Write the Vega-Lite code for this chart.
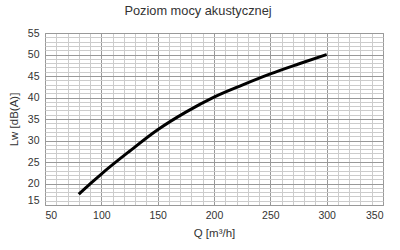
{
  "$schema": "https://vega.github.io/schema/vega-lite/v6.json",
  "width": 338,
  "height": 172,
  "autosize": {"type": "none"},
  "padding": {"left": 45, "top": 33, "right": 17, "bottom": 45},
  "title": {
    "text": "Poziom mocy akustycznej",
    "font": "Liberation Sans",
    "fontSize": 12.8,
    "fontWeight": "normal",
    "color": "#333333",
    "offset": 10,
    "dx": -16
  },
  "config": {
    "view": {"stroke": "#999999", "strokeWidth": 1},
    "axis": {
      "labelFont": "Liberation Sans",
      "titleFont": "Liberation Sans",
      "labelFontSize": 10.5,
      "titleFontSize": 11.5,
      "labelColor": "#333333",
      "titleColor": "#333333",
      "titleFontWeight": "normal",
      "domain": false,
      "ticks": false,
      "gridOpacity": 1,
      "gridWidth": 1
    }
  },
  "data": {
    "values": [
      {"q": 80, "lw": 17.5},
      {"q": 90, "lw": 19.9},
      {"q": 100, "lw": 22.2},
      {"q": 125, "lw": 27.5},
      {"q": 150, "lw": 32.5},
      {"q": 175, "lw": 36.6},
      {"q": 200, "lw": 40.1},
      {"q": 225, "lw": 42.9},
      {"q": 250, "lw": 45.5},
      {"q": 275, "lw": 47.8},
      {"q": 300, "lw": 50.0}
    ]
  },
  "mark": {
    "type": "line",
    "interpolate": "monotone",
    "color": "#000000",
    "strokeWidth": 3,
    "strokeCap": "butt"
  },
  "encoding": {
    "x": {
      "field": "q",
      "type": "quantitative",
      "scale": {"domain": [50, 350], "nice": false, "zero": false},
      "axis": {
        "title": "Q [m³/h]",
        "values": [50, 60, 70, 80, 90, 100, 110, 120, 130, 140, 150, 160, 170, 180, 190, 200, 210, 220, 230, 240, 250, 260, 270, 280, 290, 300, 310, 320, 330, 340, 350],
        "labelExpr": "datum.value % 50 === 0 ? datum.label : ''",
        "labelPadding": 5,
        "titlePadding": 7,
        "labelOverlap": false,
        "gridColor": {"condition": {"test": "datum.value % 50 === 0", "value": "#999999"}, "value": "#cccccc"}
      }
    },
    "y": {
      "field": "lw",
      "type": "quantitative",
      "scale": {"domain": [15, 55], "nice": false, "zero": false},
      "axis": {
        "title": "Lw [dB(A)]",
        "values": [15, 16, 17, 18, 19, 20, 21, 22, 23, 24, 25, 26, 27, 28, 29, 30, 31, 32, 33, 34, 35, 36, 37, 38, 39, 40, 41, 42, 43, 44, 45, 46, 47, 48, 49, 50, 51, 52, 53, 54, 55],
        "labelExpr": "datum.value % 5 === 0 ? datum.label : ''",
        "labelPadding": 6,
        "titlePadding": 8,
        "labelOverlap": false,
        "labelBaseline": {"condition": {"test": "datum.value === 15", "value": "bottom"}, "value": "middle"},
        "gridColor": {"condition": {"test": "datum.value % 5 === 0", "value": "#999999"}, "value": "#cccccc"}
      }
    }
  }
}
